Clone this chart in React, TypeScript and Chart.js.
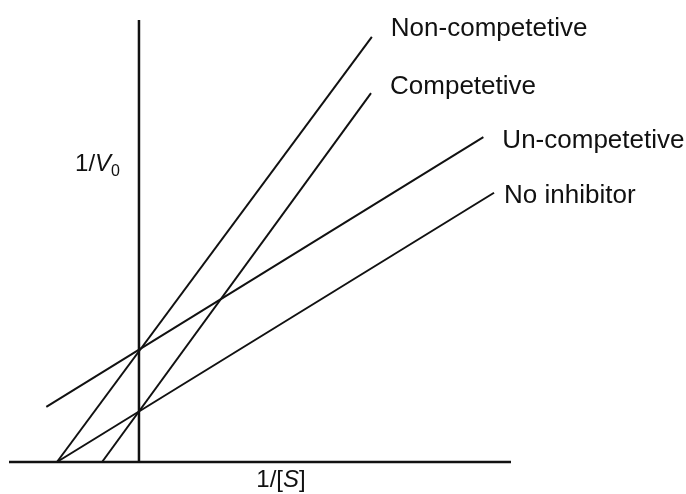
import React, { useEffect, useRef } from "react";
import { Chart, registerables } from "chart.js";

Chart.register(...registerables);

// Series (x = 1/[S], y = 1/V0), arbitrary units
const seriesNames = ["Non-competetive", "Competetive", "Un-competetive", "No inhibitor"];
const nonCompetitive = [{ x: -1, y: 0 }, { x: 2.84, y: 8.02 }];
const competitive = [{ x: -0.45, y: 0 }, { x: 2.83, y: 6.96 }];
const unCompetitive = [{ x: -1.13, y: 1.04 }, { x: 4.2, y: 6.13 }];
const noInhibitor = [{ x: -1, y: 0 }, { x: 4.33, y: 5.08 }];

// Axis extents
const xMin = -1.585;
const xMax = 4.537;
const yMin = 0;
const yMax = 8.34;
const xAxisLine = [{ x: xMin, y: 0 }, { x: xMax, y: 0 }];
const yAxisLine = [{ x: 0, y: yMin }, { x: 0, y: yMax }];

const INK = "#111";
const FONT = '"Liberation Sans", Arial, Helvetica, sans-serif';
const LABEL_OFFSETS: [number, number][] = [[19, -1], [19, 1], [19, 11], [10, 10]];

type Part = { t: string; italic?: boolean; size: number; dy?: number };

function drawRich(ctx: CanvasRenderingContext2D, parts: Part[], x: number, y: number, align: "left" | "right" | "center") {
  const fontOf = (p: Part) => `${p.italic ? "italic " : ""}${p.size}px ${FONT}`;
  let total = 0;
  const widths = parts.map((p) => {
    ctx.font = fontOf(p);
    const w = ctx.measureText(p.t).width;
    total += w;
    return w;
  });
  let cx = align === "left" ? x : align === "right" ? x - total : x - total / 2;
  parts.forEach((p, i) => {
    ctx.font = fontOf(p);
    ctx.fillText(p.t, cx, y + (p.dy || 0));
    cx += widths[i];
  });
}

const labelPlugin = {
  id: "textLabels",
  afterDatasetsDraw(chart: any) {
    const ctx: CanvasRenderingContext2D = chart.ctx;
    const xs = chart.scales.x;
    const ys = chart.scales.y;
    ctx.save();
    ctx.fillStyle = INK;
    ctx.textAlign = "left";
    ctx.textBaseline = "alphabetic";
    ctx.font = `26px ${FONT}`;
    seriesNames.forEach((name, i) => {
      const data = chart.data.datasets[i].data;
      const last = data[data.length - 1];
      const px = xs.getPixelForValue(last.x);
      const py = ys.getPixelForValue(last.y);
      const [dx, dy] = LABEL_OFFSETS[i];
      ctx.fillText(name, px + dx, py + dy);
    });
    const x0 = xs.getPixelForValue(0);
    const y0 = ys.getPixelForValue(0);
    drawRich(
      ctx,
      [
        { t: "1/", size: 24 },
        { t: "V", size: 24, italic: true },
        { t: "0", size: 16, dy: 5 },
      ],
      x0 - 19,
      171,
      "right"
    );
    drawRich(
      ctx,
      [
        { t: "1/[", size: 24 },
        { t: "S", size: 24, italic: true },
        { t: "]", size: 24 },
      ],
      281,
      y0 + 25,
      "center"
    );
    ctx.restore();
  },
};

export default function App() {
  const ref = useRef<HTMLCanvasElement | null>(null);
  useEffect(() => {
    if (!ref.current) return;
    const lineDs = (data: any[]) => ({
      data,
      showLine: true,
      borderColor: INK,
      backgroundColor: INK,
      borderWidth: 2,
      pointRadius: 0,
      fill: false,
      clip: false as any,
    });
    const chart = new Chart(ref.current, {
      type: "scatter",
      data: {
        datasets: [
          lineDs(nonCompetitive),
          lineDs(competitive),
          lineDs(unCompetitive),
          lineDs(noInhibitor),
          { ...lineDs(xAxisLine), borderWidth: 2.5 },
          { ...lineDs(yAxisLine), borderWidth: 2.5 },
        ],
      },
      options: {
        animation: false,
        responsive: false,
        devicePixelRatio: 1,
        layout: { padding: { left: 9, right: 175, top: 20, bottom: 32 } },
        plugins: { legend: { display: false }, tooltip: { enabled: false } },
        scales: {
          x: { type: "linear", min: xMin, max: xMax, display: false },
          y: { type: "linear", min: yMin, max: yMax, display: false },
        },
      },
      plugins: [labelPlugin],
    });
    return () => chart.destroy();
  }, []);
  return (
    <div style={{ position: "fixed", left: 0, top: 0, width: 686, height: 494, background: "#fff" }}>
      <canvas ref={ref} width={686} height={494} style={{ display: "block", width: 686, height: 494 }} />
    </div>
  );
}
